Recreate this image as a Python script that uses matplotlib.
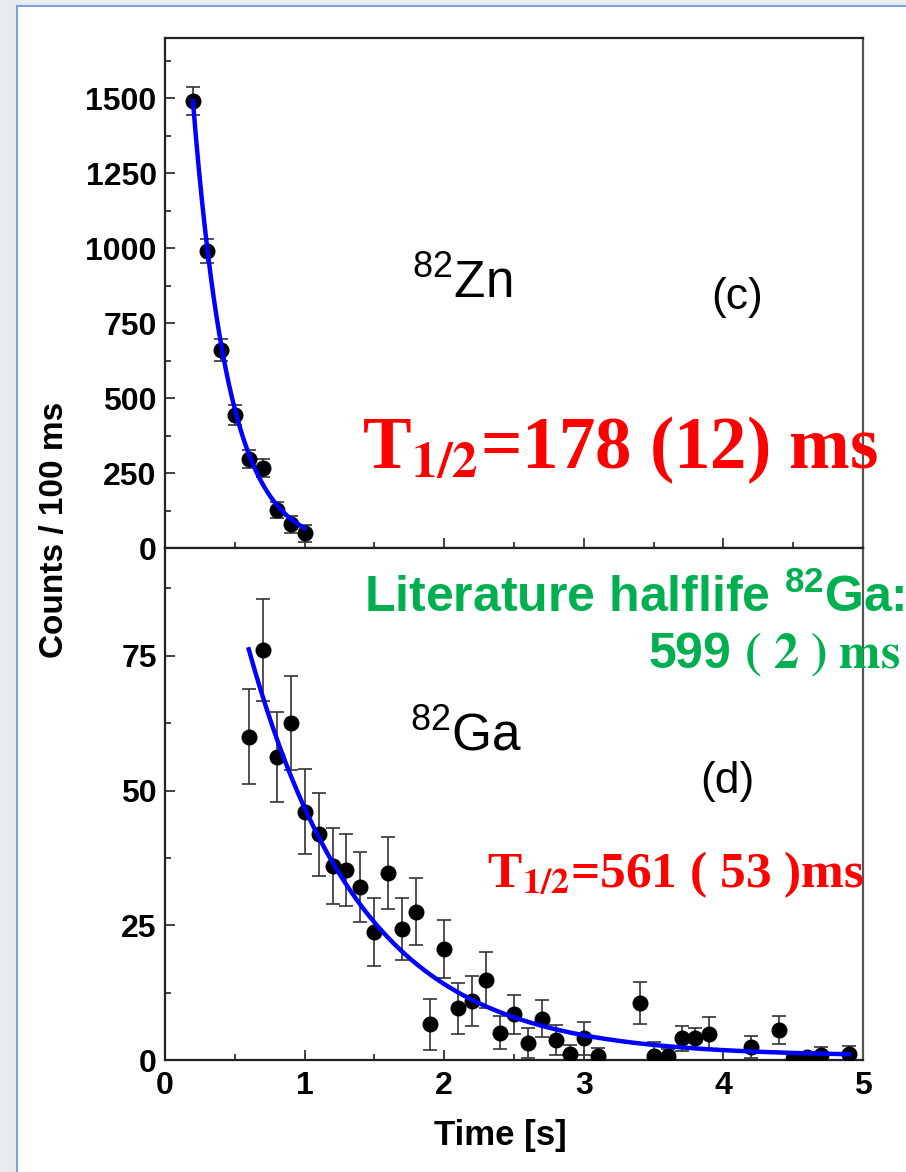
import numpy as np
import matplotlib.pyplot as plt
from matplotlib.patches import Rectangle
from matplotlib.ticker import MultipleLocator

plt.rcParams['font.family'] = ['Liberation Sans', 'DejaVu Sans']
plt.rcParams['mathtext.fontset'] = 'custom'
plt.rcParams['mathtext.rm'] = 'Liberation Sans'
plt.rcParams['mathtext.bf'] = 'Liberation Sans:bold'
plt.rcParams['mathtext.it'] = 'Liberation Sans:italic'

# 82Zn decay, counts per 100 ms bin
zn_time = [0.2, 0.3, 0.4, 0.5, 0.6, 0.7, 0.8, 0.9, 1.0]
zn_counts = [1490, 990, 660, 443, 297, 268, 127, 79, 49]
zn_err = [48, 41, 38, 34, 31, 30, 28, 28, 28]

# 82Ga decay, counts per 100 ms bin
ga_time = [0.6, 0.7, 0.8, 0.9, 1.0, 1.1, 1.2, 1.3, 1.4, 1.5, 1.6, 1.7, 1.8, 1.9,
           2.0, 2.1, 2.2, 2.3, 2.4, 2.5, 2.6, 2.7, 2.8, 2.9, 3.0, 3.1, 3.4, 3.5,
           3.6, 3.7, 3.8, 3.9, 4.2, 4.4, 4.5, 4.6, 4.7, 4.9]
ga_counts = [60.0, 76.1, 56.2, 62.6, 46.1, 41.9, 36.0, 35.2, 32.1, 23.8, 34.7, 24.3,
             27.5, 6.6, 20.6, 9.6, 10.9, 14.8, 5.1, 8.5, 3.1, 7.7, 3.7, 1.2, 4.0, 0.8,
             10.5, 0.8, 0.8, 4.0, 4.0, 4.9, 2.4, 5.5, 0.2, 0.5, 1.0, 1.2]
ga_err = [8.8, 9.5, 8.3, 8.7, 7.9, 7.7, 7.1, 6.7, 6.5, 6.3, 6.7, 5.7, 6.2, 4.8,
          5.4, 4.7, 4.6, 5.2, 3.0, 3.6, 2.8, 3.4, 2.8, 1.6, 3.1, 1.5, 3.9, 2.5,
          1.2, 2.4, 2.0, 3.0, 2.1, 2.6, 0.5, 1.0, 1.5, 1.4]

# exponential fits: amplitude at t0, half-life [s], constant background
zn_fit = (0.2, 1.0, 1490.0, 0.178, 0.0)
ga_fit = (0.6, 4.9, 75.5, 0.561, 0.7)


def decay_curve(fit):
    t0, t1, amp, half, bg = fit
    t = np.linspace(t0, t1, 300)
    return t, amp * 2.0 ** (-(t - t0) / half) + bg


W, H = 906, 1172
fig = plt.figure(figsize=(W / 100, H / 100), dpi=100, facecolor='#e8ebf0')
fig.add_artist(Rectangle((17 / W, -0.01), 1.0, 1 - 6 / H + 0.01,
                         transform=fig.transFigure, facecolor='white',
                         edgecolor='#7ba2d6', lw=1.5, zorder=-10))

ax_zn = fig.add_axes([165 / W, 1 - 548 / H, 698 / W, 510 / H])
ax_ga = fig.add_axes([165 / W, 1 - 1060 / H, 698 / W, 512 / H])

ax_zn.errorbar(zn_time, zn_counts, yerr=zn_err, fmt='o', color='black', ms=10.5,
               ecolor='#333333', elinewidth=1.2, capsize=5, capthick=1.2, zorder=3)
t, c = decay_curve(zn_fit)
ax_zn.plot(t, c, color='#0000ff', lw=3.2, zorder=4)

ax_ga.errorbar(ga_time, ga_counts, yerr=ga_err, fmt='o', color='black', ms=10.5,
               ecolor='#333333', elinewidth=1.2, capsize=5, capthick=1.2, zorder=3)
t, c = decay_curve(ga_fit)
ax_ga.plot(t, c, color='#0000ff', lw=3.2, zorder=4)

ax_zn.set_xlim(0, 5)
ax_zn.set_ylim(0, 1700)
ax_zn.yaxis.set_major_locator(MultipleLocator(250))
ax_zn.yaxis.set_minor_locator(MultipleLocator(125))
ax_ga.set_xlim(0, 5)
ax_ga.set_ylim(0, 95)
ax_ga.yaxis.set_major_locator(MultipleLocator(25))
ax_ga.yaxis.set_minor_locator(MultipleLocator(12.5))

for ax in (ax_zn, ax_ga):
    ax.xaxis.set_major_locator(MultipleLocator(1))
    ax.xaxis.set_minor_locator(MultipleLocator(0.5))
    ax.tick_params(which='both', direction='in', top=False, right=False,
                   width=1.2, color='#222222')
    ax.tick_params(which='major', length=7)
    ax.tick_params(which='minor', length=4.5)
    ax.tick_params(axis='y', labelsize=23, pad=6)
    ax.tick_params(axis='x', labelsize=23, pad=8)
    for lab in ax.get_xticklabels() + ax.get_yticklabels():
        lab.set_fontweight('bold')
    for sp in ax.spines.values():
        sp.set_linewidth(1.6)
        sp.set_color('#222222')
    ax.spines['right'].set_color('#555555')
ax_zn.tick_params(axis='x', labelbottom=False)

fig.text(55 / W, 1 - 530 / H, 'Counts / 100 ms', rotation=90, fontsize=24,
         fontweight='bold', ha='center', va='center')
fig.text(500 / W, 1 - 1135 / H, 'Time [s]', fontsize=25, fontweight='bold',
         ha='center', va='center')

fig.text(412 / W, 1 - 298 / H, r'$^{\mathrm{82}}$Zn', fontsize=37,
         ha='left', va='baseline')
fig.text(737 / W, 1 - 298 / H, '(c)', fontsize=32, ha='center', va='center')
fig.text(362 / W, 1 - 468 / H, r'T$_{\mathbf{1/2}}$=178 (12) ms', fontsize=52.5,
         color='#ff0000', fontfamily='Liberation Serif', fontweight='bold',
         math_fontfamily='stix', ha='left', va='baseline')

fig.text(905 / W, 1 - 612 / H, r'Literature halflife $^{\mathbf{82}}$Ga:',
         fontsize=36, fontweight='bold', color='#00b050', ha='right', va='baseline')
fig.text(900 / W, 1 - 668 / H, r'599 $\mathbf{(\ 2\ )\ ms}$', fontsize=36,
         fontweight='bold', color='#00b050', math_fontfamily='stix',
         ha='right', va='baseline')

fig.text(410 / W, 1 - 750 / H, r'$^{\mathrm{82}}$Ga', fontsize=37,
         ha='left', va='baseline')
fig.text(727 / W, 1 - 782 / H, '(d)', fontsize=32, ha='center', va='center')
fig.text(487 / W, 1 - 887 / H, r'T$_{\mathbf{1/2}}$=561 ( 53 )ms', fontsize=37,
         color='#ff0000', fontfamily='Liberation Serif', fontweight='bold',
         math_fontfamily='stix', ha='left', va='baseline')

fig.savefig('out.png', dpi=100, facecolor=fig.get_facecolor())
